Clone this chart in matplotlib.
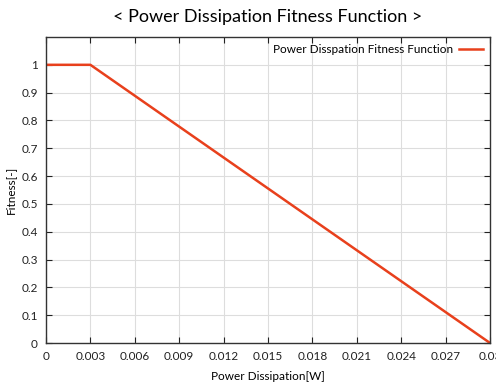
import matplotlib
matplotlib.use("Agg")
import matplotlib.pyplot as plt

# fitness curve corner points
power_w = [0.0, 0.003, 0.03]
fitness = [1.0, 1.0, 0.0]

xticks = [0, 0.003, 0.006, 0.009, 0.012, 0.015, 0.018, 0.021, 0.024, 0.027, 0.03]
xtick_labels = ['0', '0.003', '0.006', '0.009', '0.012', '0.015', '0.018', '0.021', '0.024', '0.027', '0.03']
yticks = [0, 0.1, 0.2, 0.3, 0.4, 0.5, 0.6, 0.7, 0.8, 0.9, 1]
ytick_labels = ['0', '0.1', '0.2', '0.3', '0.4', '0.5', '0.6', '0.7', '0.8', '0.9', '1']

plt.rcParams['font.family'] = ['Lato', 'DejaVu Sans']

fig = plt.figure(figsize=(4.96, 3.90), dpi=100)
ax = fig.add_axes([46/496, 1 - 343/390, (490-46)/496, (343-37)/390])

ax.plot(power_w, fitness, color='#e8401c', lw=1.8, label='Power Disspation Fitness Function')

ax.set_xlim(0, 0.03)
ax.set_ylim(0, 1.1)
ax.set_xticks(xticks)
ax.set_xticklabels(xtick_labels)
ax.set_yticks(yticks)
ax.set_yticklabels(ytick_labels)
ax.tick_params(direction='in', top=True, right=True, length=4, labelsize=8.5, colors='#222222', pad=6)
ax.grid(True, color='#dddddd', lw=0.8)
for s in ax.spines.values():
    s.set_color('#333333')
    s.set_linewidth(1)

ax.set_xlabel('Power Dissipation[W]', fontsize=8.5, labelpad=6)
ax.set_ylabel('Fitness[-]', fontsize=8.5, labelpad=4)
fig.text(268/496, 1 - 17/390, '< Power Dissipation Fitness Function >', ha='center', va='center', fontsize=13)

leg = ax.legend(loc='upper right', frameon=False, markerfirst=False, fontsize=8.5,
                handlelength=2, borderaxespad=0.2, handletextpad=0.5)

fig.savefig('out.png', dpi=100)
